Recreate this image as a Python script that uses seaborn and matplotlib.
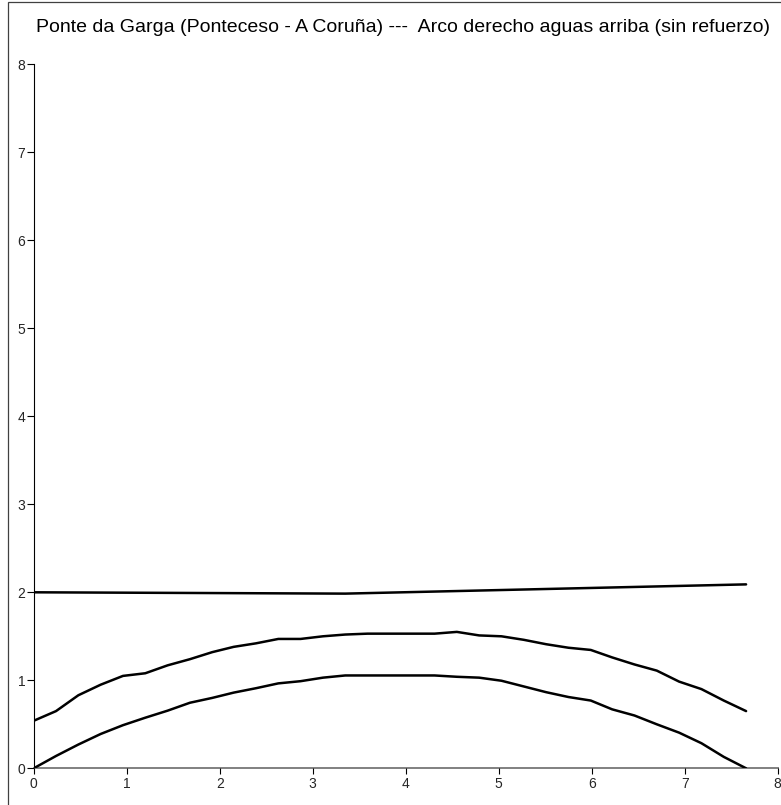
import matplotlib
matplotlib.use("Agg")
import matplotlib.pyplot as plt
import seaborn as sns
import pandas as pd
from matplotlib.patches import Rectangle

# ---- data ----
x_arch = [0.00, 0.24, 0.48, 0.72, 0.96, 1.20, 1.44, 1.68, 1.92, 2.15, 2.39,
          2.63, 2.87, 3.11, 3.35, 3.59, 3.83, 4.07, 4.31, 4.55, 4.79, 5.03,
          5.27, 5.51, 5.75, 5.99, 6.22, 6.46, 6.70, 6.94, 7.18, 7.42, 7.66]
extrados = [0.54, 0.65, 0.83, 0.95, 1.05, 1.08, 1.17, 1.24, 1.32, 1.38, 1.42,
            1.47, 1.47, 1.50, 1.52, 1.53, 1.53, 1.53, 1.53, 1.55, 1.51, 1.50,
            1.46, 1.41, 1.37, 1.345, 1.26, 1.18, 1.11, 0.985, 0.90, 0.77, 0.65]
intrados = [0.00, 0.14, 0.27, 0.39, 0.49, 0.575, 0.655, 0.745, 0.80, 0.86, 0.91,
            0.965, 0.99, 1.03, 1.055, 1.055, 1.055, 1.055, 1.055, 1.04, 1.03, 0.995,
            0.93, 0.865, 0.81, 0.77, 0.67, 0.60, 0.50, 0.405, 0.285, 0.13, 0.00]
x_deck = [0.00, 3.35, 7.66]
deck = [2.00, 1.985, 2.09]

title = "Ponte da Garga (Ponteceso - A Coruña) ---  Arco derecho aguas arriba (sin refuerzo)"
x_ticks = [0, 1, 2, 3, 4, 5, 6, 7, 8]
y_ticks = [0, 1, 2, 3, 4, 5, 6, 7, 8]

sns.set_style("white")
plt.rcParams['font.family'] = ['Liberation Sans', 'DejaVu Sans']

fig = plt.figure(figsize=(7.81, 8.05), dpi=100)
ax = fig.add_axes([33.7 / 781, 1 - 768.3 / 805, 744 / 781, 704 / 805])

lw = 1.8
sns.lineplot(x=x_arch, y=extrados, sort=False, color="black", lw=lw, ax=ax)
sns.lineplot(x=x_arch, y=intrados, sort=False, color="black", lw=lw, ax=ax)
sns.lineplot(x=x_deck, y=deck, sort=False, color="black", lw=lw, ax=ax)

ax.set_xlim(0, 8)
ax.set_ylim(0, 8)
ax.set_xticks(x_ticks)
ax.set_yticks(y_ticks)
ax.set_xticklabels([str(t) for t in x_ticks])
ax.set_yticklabels([str(t) for t in y_ticks])
ax.set_xlabel("")
ax.set_ylabel("")

for s in ["top", "right"]:
    ax.spines[s].set_visible(False)
ax.spines["left"].set_color("black")
ax.spines["left"].set_linewidth(0.8)
ax.spines["bottom"].set_color("#808080")
ax.spines["bottom"].set_linewidth(1.4)
ax.spines["left"].set_zorder(0.5)
ax.spines["bottom"].set_zorder(0.5)

ax.tick_params(axis="y", direction="out", length=5, width=0.8, color="black",
               labelsize=10, pad=1, left=True)
ax.tick_params(axis="x", direction="out", length=4, width=0.8, color="black",
               labelsize=10, pad=2, bottom=True)
ax.grid(False)

fig.text(402.5 / 781, 1 - 32.3 / 805, title, ha="center", va="baseline",
         fontsize=14, color="black")

# outer frame
fig.patches.append(Rectangle((8 / 781, -0.1), 1.2, 1 - 2 / 805 + 0.1,
                             transform=fig.transFigure, fill=False,
                             edgecolor="#404040", lw=0.9))

fig.savefig("out.png", dpi=100)
